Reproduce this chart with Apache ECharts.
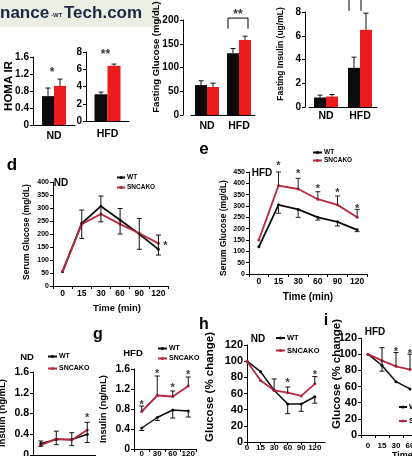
<!DOCTYPE html>
<html><head><meta charset="utf-8">
<script src="https://cdn.jsdelivr.net/npm/echarts@6/dist/echarts.min.js"></script>
<style>html,body{margin:0;padding:0;background:#fff}#c{width:412px;height:456px}</style>
</head><body><div id="c"></div>
<script>
// ---------------- data ----------------
const homaNDCats = ['ND'];
const homaNDWT = [0.68], homaNDKO = [0.92];
const homaNDWTHi = [0.87], homaNDKOHi = [1.08];
const homaHFDCats = ['HFD'];
const homaHFDWT = [3.1], homaHFDKO = [6.4];
const homaHFDWTHi = [3.35], homaHFDKOHi = [6.6];
const glucCats = ['ND', 'HFD'];
const glucWT = [63, 130], glucKO = [59, 158];
const glucWTHi = [72, 140], glucKOHi = [67, 166];
const insCats = ['ND', 'HFD'];
const insWT = [0.8, 3.3], insKO = [0.88, 6.5];
const insWTHi = [1.0, 4.2], insKOHi = [1.05, 7.9];

const timeCats = ['0', '15', '30', '60', '90', '120'];
const dWT = [55, 241, 307, 254, 200, 141];
const dKO = [58, 238, 277, 238, 203, 164];
const dErrLo = [null, 183, 247, 200, 141, 119];
const dErrHi = [null, 292, 346, 298, 260, 196];

const eWT = [120, 305, 285, 250, 230, 195];
const eKO = [150, 390, 375, 330, 305, 250];
const eKOHi = [null, 450, 422, 363, 344, 285];
const eWTLo = [null, 268, 250, 238, 212, 187];

const insTimeCats = ['0', '30', '60', '120'];
const fWT = [0.22, 0.30, 0.30, 0.40];
const fKO = [0.19, 0.31, 0.29, 0.48];
const fErrLo = [0.17, 0.20, 0.18, 0.24];
const fErrHi = [0.27, 0.46, 0.43, 0.63];

const gWT = [0.42, 0.63, 0.78, 0.76];
const gKO = [0.75, 1.07, 1.05, 1.26];
const gKOHi = [0.86, 1.46, 1.16, 1.44];
const gWTLo = [0.37, 0.57, 0.62, 0.64];

const hWT = [100, 87, 64, 47, 47, 56];
const hKO = [100, 76, 64, 61, 57, 72];
const hWTLo = [null, null, null, 35, 38, 48];
const hKOHi = [null, null, 78, 68, null, 81];

const iWT = [100, 86, 66, 57];
const iKO = [100, 92, 85, 81];
const iWTLo = [null, 79, null, null];
const iWTHi = [null, 108, null, null];
const iKOHi = [null, null, 102, 100];

// significance marks [x, y, text]
const homaNDStar = [[0, 1.29, '*']];
const homaHFDStar = [[0, 8.0, '**']];
const glucStar = [[1, 217, '**']];
const insStar = [[1, 9.4, '**']];
const glucBracket = [[1, 182, 204]];
const insBracket = [[1, 8.1, 9.1]];
const dStar = [[5, 165, '*']];
const eStar = [[1, 490, '*'], [2, 454, '*'], [3, 388, '*'], [4, 370, '*'], [5, 300, '*']];
const fStar = [[3, 0.77, '*']];
const gStar = [[0, 0.95, '*'], [1, 1.56, '*'], [2, 1.29, '*'], [3, 1.54, '*']];
const hStar = [[3, 77, '*'], [5, 87, '*']];
const iStar = [[2, 106, '*'], [3, 104, '*']];

// ---------------- styling helpers ----------------
const F = '"Liberation Sans", Arial, Helvetica, sans-serif';
const BLACK = '#0b0b0b', RED_BAR = '#ec1c1c', RED_LINE = '#b8283f', ERR = '#111';

const grids = [
  {left: 33, top: 57, width: 42, height: 68},
  {left: 86, top: 52, width: 43, height: 69},
  {left: 191, top: 20, width: 64, height: 95},
  {left: 309, top: 12, width: 68, height: 95},
  {left: 53, top: 182, width: 115, height: 104},
  {left: 249, top: 172, width: 118, height: 102},
  {left: 33, top: 372, width: 62, height: 83},
  {left: 134, top: 369, width: 62, height: 80},
  {left: 247, top: 345, width: 78, height: 97},
  {left: 361, top: 338, width: 84, height: 97}
].map(g => Object.assign({containLabel: false, outerBoundsMode: 'none'}, g));

function yA(gi, max, interval, fs, offset) {
  return {type: 'value', gridIndex: gi, min: 0, max: max, interval: interval, offset: offset || 0,
    axisLine: {show: true, lineStyle: {color: '#000', width: 1}},
    axisTick: {show: true, length: 3, lineStyle: {color: '#000'}},
    splitLine: {show: false},
    axisLabel: {fontSize: fs, fontWeight: 'bold', fontFamily: F, color: '#000', margin: 4}};
}
function xC(gi, data, fs, margin, tick, showLabel) {
  return {type: 'category', gridIndex: gi, data: data, boundaryGap: true,
    axisLine: {show: true, onZero: false, lineStyle: {color: '#000'}},
    axisTick: {show: tick, length: 3, lineStyle: {color: '#000'}},
    splitLine: {show: false},
    axisLabel: {show: showLabel !== false, fontSize: fs, fontWeight: 'bold', fontFamily: F, color: '#000', margin: margin, interval: 0}};
}
function bars(gi, name, data, color, bw) {
  return {type: 'bar', name: name, xAxisIndex: gi, yAxisIndex: gi, data: data, barWidth: bw, barGap: '0%',
    itemStyle: {color: color}, silent: true};
}
function line(gi, name, data, color, w) {
  return {type: 'line', name: name, xAxisIndex: gi, yAxisIndex: gi, data: data, symbol: 'circle', symbolSize: 3,
    showSymbol: true, lineStyle: {color: color, width: w}, itemStyle: {color: color}, silent: true, z: 3};
}
function rangeData(lo, hi) {
  const out = [];
  lo.forEach((l, i) => { if (l != null && hi[i] != null) out.push([i, l, hi[i]]); });
  return out;
}
function errs(gi, data, offset, capLo, capHi, color, cap) {
  return {type: 'custom', xAxisIndex: gi, yAxisIndex: gi, data: data, clip: false, silent: true, z: 5,
    renderItem: function (params, api) {
      const xv = api.value(0), lo = api.value(1), hi = api.value(2);
      const a = api.coord([xv, lo]), b = api.coord([xv, hi]);
      const x = a[0] + offset;
      const st = {stroke: color, lineWidth: 1};
      const ch = [{type: 'line', shape: {x1: x, y1: a[1], x2: x, y2: b[1]}, style: st}];
      if (capHi) ch.push({type: 'line', shape: {x1: x - cap, y1: b[1], x2: x + cap, y2: b[1]}, style: st});
      if (capLo) ch.push({type: 'line', shape: {x1: x - cap, y1: a[1], x2: x + cap, y2: a[1]}, style: st});
      return {type: 'group', children: ch};
    }};
}
function bracket(gi, data, dx0, dx1) {
  return {type: 'custom', xAxisIndex: gi, yAxisIndex: gi, data: data, clip: false, silent: true, z: 5,
    renderItem: function (params, api) {
      const a = api.coord([api.value(0), api.value(1)]), b = api.coord([api.value(0), api.value(2)]);
      const st = {stroke: '#000', lineWidth: 1, fill: null};
      return {type: 'polyline', shape: {points: [[a[0] + dx0, a[1]], [a[0] + dx0, b[1]], [a[0] + dx1, b[1]], [a[0] + dx1, a[1]]]}, style: st};
    }};
}
function stars(gi, data, fs, offset) {
  return {type: 'scatter', xAxisIndex: gi, yAxisIndex: gi, data: data, symbolSize: 1, clip: false, silent: true, z: 6,
    itemStyle: {color: 'transparent'},
    label: {show: true, position: 'inside', formatter: p => p.value[2], fontSize: fs, fontWeight: 'bold',
      fontFamily: F, color: '#000', offset: offset || [0, 3]}};
}
function idx(arr) { return arr.map((v, i) => [i, v]); }
function leg(left, top, gap, fs, iw) {
  return {left: left, top: top, orient: 'vertical', padding: 0, itemGap: gap, itemWidth: iw, itemHeight: 4,
    selectedMode: false, data: ['WT', 'SNCAKO'],
    textStyle: {fontSize: fs, fontWeight: 'bold', fontFamily: F, color: '#000', padding: [0, 0, 0, -3]}};
}
function txt(x, y, s, fs, rot, color, align) {
  return {type: 'text', x: x, y: y, rotation: rot ? Math.PI / 2 : 0, silent: true, z: 10,
    style: {text: s, fontSize: fs, fontWeight: 'bold', fontFamily: F, fill: color || '#000',
      align: align || 'center', verticalAlign: 'middle'}};
}

// ---------------- axes ----------------
const xAxis = [
  xC(0, homaNDCats, 10.5, 6, false),
  xC(1, homaHFDCats, 10.5, 8, false),
  xC(2, glucCats, 10.5, 6, false),
  xC(3, insCats, 10.5, 4, false),
  xC(4, timeCats, 8.5, 3, true),
  xC(5, timeCats, 8.5, 3, true),
  xC(6, insTimeCats, 8, 2, true, false),
  xC(7, insTimeCats, 8, 1, true),
  {type: 'value', gridIndex: 8, min: 0, max: 5.75, interval: 1,
    axisLine: {show: true, onZero: false, lineStyle: {color: '#000'}},
    axisTick: {show: true, length: 3, lineStyle: {color: '#000'}}, splitLine: {show: false},
    axisLabel: {fontSize: 8, fontWeight: 'bold', fontFamily: F, color: '#000', margin: 2, showMaxLabel: false,
      formatter: v => (timeCats[v] !== undefined ? timeCats[v] : '')}},
  xC(9, timeCats, 8, 7, true)
];
const yAxis = [
  yA(0, 1.6, 0.4, 10), yA(1, 8, 2, 10), yA(2, 200, 50, 10, 8), yA(3, 8, 2, 10, 4),
  yA(4, 400, 50, 7), yA(5, 450, 50, 7),
  yA(6, 1.6, 0.4, 10.5), yA(7, 1.6, 0.4, 10.5),
  yA(8, 120, 20, 11), yA(9, 120, 20, 11)
];

// ---------------- series ----------------
const series = [
  bars(0, 'WT bars', homaNDWT, BLACK, 12), bars(0, 'SNCAKO bars', homaNDKO, RED_BAR, 12),
  errs(0, rangeData(homaNDWT, homaNDWTHi), -6, false, true, ERR, 2.5),
  errs(0, rangeData(homaNDKO, homaNDKOHi), 6, false, true, ERR, 2.5),
  stars(0, homaNDStar, 12, [-2, 3]),

  bars(1, 'WT bars', homaHFDWT, BLACK, 13), bars(1, 'SNCAKO bars', homaHFDKO, RED_BAR, 13),
  errs(1, rangeData(homaHFDWT, homaHFDWTHi), -6.5, false, true, ERR, 2.5),
  errs(1, rangeData(homaHFDKO, homaHFDKOHi), 6.5, false, true, ERR, 2.5),
  stars(1, homaHFDStar, 12, [-2, 3]),

  bars(2, 'WT bars', glucWT, BLACK, 12), bars(2, 'SNCAKO bars', glucKO, RED_BAR, 12),
  errs(2, rangeData(glucWT, glucWTHi), -6, false, true, ERR, 2.5),
  errs(2, rangeData(glucKO, glucKOHi), 6, false, true, ERR, 2.5),
  bracket(2, glucBracket, -11, 9),
  stars(2, glucStar, 12, [-1, 3]),

  bars(3, 'WT bars', insWT, BLACK, 12), bars(3, 'SNCAKO bars', insKO, RED_BAR, 12),
  errs(3, rangeData(insWT, insWTHi), -6, false, true, ERR, 2.5),
  errs(3, rangeData(insKO, insKOHi), 6, false, true, ERR, 2.5),
  bracket(3, insBracket, -11, 1),
  stars(3, insStar, 12, [-5, 3]),

  line(4, 'WT', dWT, BLACK, 1.8), line(4, 'SNCAKO', dKO, RED_LINE, 1.8),
  errs(4, rangeData(dErrLo, dErrHi), 0, true, true, ERR, 2.5),
  stars(4, dStar, 11, [7, 3]),

  line(5, 'WT', eWT, BLACK, 1.8), line(5, 'SNCAKO', eKO, RED_LINE, 1.8),
  errs(5, rangeData(eKO, eKOHi), 0, false, true, '#222', 2.5),
  errs(5, rangeData(eWTLo, eWT), 0, true, false, '#222', 2.5),
  stars(5, eStar, 11),

  line(6, 'WT', fWT, BLACK, 1.5), line(6, 'SNCAKO', fKO, RED_LINE, 1.8),
  errs(6, rangeData(fErrLo, fErrHi), 0, true, true, ERR, 2.5),
  stars(6, fStar, 11),

  line(7, 'WT', gWT, BLACK, 1.5), line(7, 'SNCAKO', gKO, RED_LINE, 1.8),
  errs(7, rangeData(gKO, gKOHi), 0, false, true, ERR, 2.5),
  errs(7, rangeData(gWTLo, gWT), 0, true, false, ERR, 2.5),
  stars(7, gStar, 11),

  line(8, 'WT', idx(hWT), BLACK, 1.5), line(8, 'SNCAKO', idx(hKO), RED_LINE, 1.8),
  errs(8, rangeData(hWTLo, hWT), 0, true, false, ERR, 2.5),
  errs(8, rangeData(hKO, hKOHi), 0, false, true, ERR, 2.5),
  stars(8, hStar, 11),

  line(9, 'WT', iWT, BLACK, 1.5), line(9, 'SNCAKO', iKO, RED_LINE, 1.8),
  errs(9, rangeData(iWTLo, iWTHi), 0, true, true, ERR, 2.5),
  errs(9, rangeData(iKO, iKOHi), 0, false, true, ERR, 2.5),
  stars(9, iStar, 11)
];

// ---------------- texts ----------------
const graphic = [
  {type: 'rect', shape: {x: 0, y: 0, width: 158, height: 27}, style: {fill: '#e9efe3'}, silent: true, z: 0},
  txt(0, 13, 'nance', 17, false, '#1c2742', 'left'),
  txt(51, 15, '-WT', 6, false, '#1c2742', 'left'),
  txt(64, 13, 'Tech.com', 17, false, '#1c2742', 'left'),

  txt(9, 86, 'HOMA IR', 11.5, true),
  txt(156, 57, 'Fasting Glucose (mg/dL)', 9.5, true),
  txt(281, 54, 'Fasting Insulin (ug/mL)', 8.5, true),
  txt(27, 232, 'Serum Glucose (mg/dL)', 8.5, true),
  txt(223.5, 228, 'Serum Glucose (mg/dL)', 8.5, true),
  txt(2, 413, 'Insulin (ng/mL)', 9.5, true),
  txt(103, 409, 'Insulin (ng/mL)', 9.5, true),
  txt(210, 387, 'Glucose (% change)', 11.5, true),
  txt(336.5, 374, 'Glucose (% change)', 11.5, true),

  txt(12, 165, 'd', 17), txt(204, 149, 'e', 17), txt(98, 335, 'g', 16),
  txt(204, 325, 'h', 16), txt(326, 321, 'i', 16),

  txt(61, 183, 'ND', 10), txt(262, 173, 'HFD', 10),
  txt(27, 357, 'ND', 9.5), txt(133, 353, 'HFD', 9.5),
  txt(258, 339, 'ND', 10), txt(375, 332, 'HFD', 10),

  txt(117, 308, 'Time (min)', 9.5), txt(308, 297, 'Time (min)', 10),
  txt(392, 456, 'Time (min)', 9, false, '#000', 'left')
];

const option = {
  animation: false,
  backgroundColor: '#fff',
  grid: grids, xAxis: xAxis, yAxis: yAxis, series: series,
  legend: [
    leg(116, 174, 3, 6.5, 8),
    leg(312, 149, 1, 6.5, 9),
    leg(47, 353, 5, 7, 9),
    leg(157, 345, 3, 7, 9),
    leg(275, 334, 4.5, 7.5, 9),
    leg(398, 403, 6, 8, 8)
  ],
  graphic: graphic
};
const chart = echarts.init(document.getElementById('c'), null, {renderer: 'canvas'});
chart.setOption(option);
</script></body></html>
